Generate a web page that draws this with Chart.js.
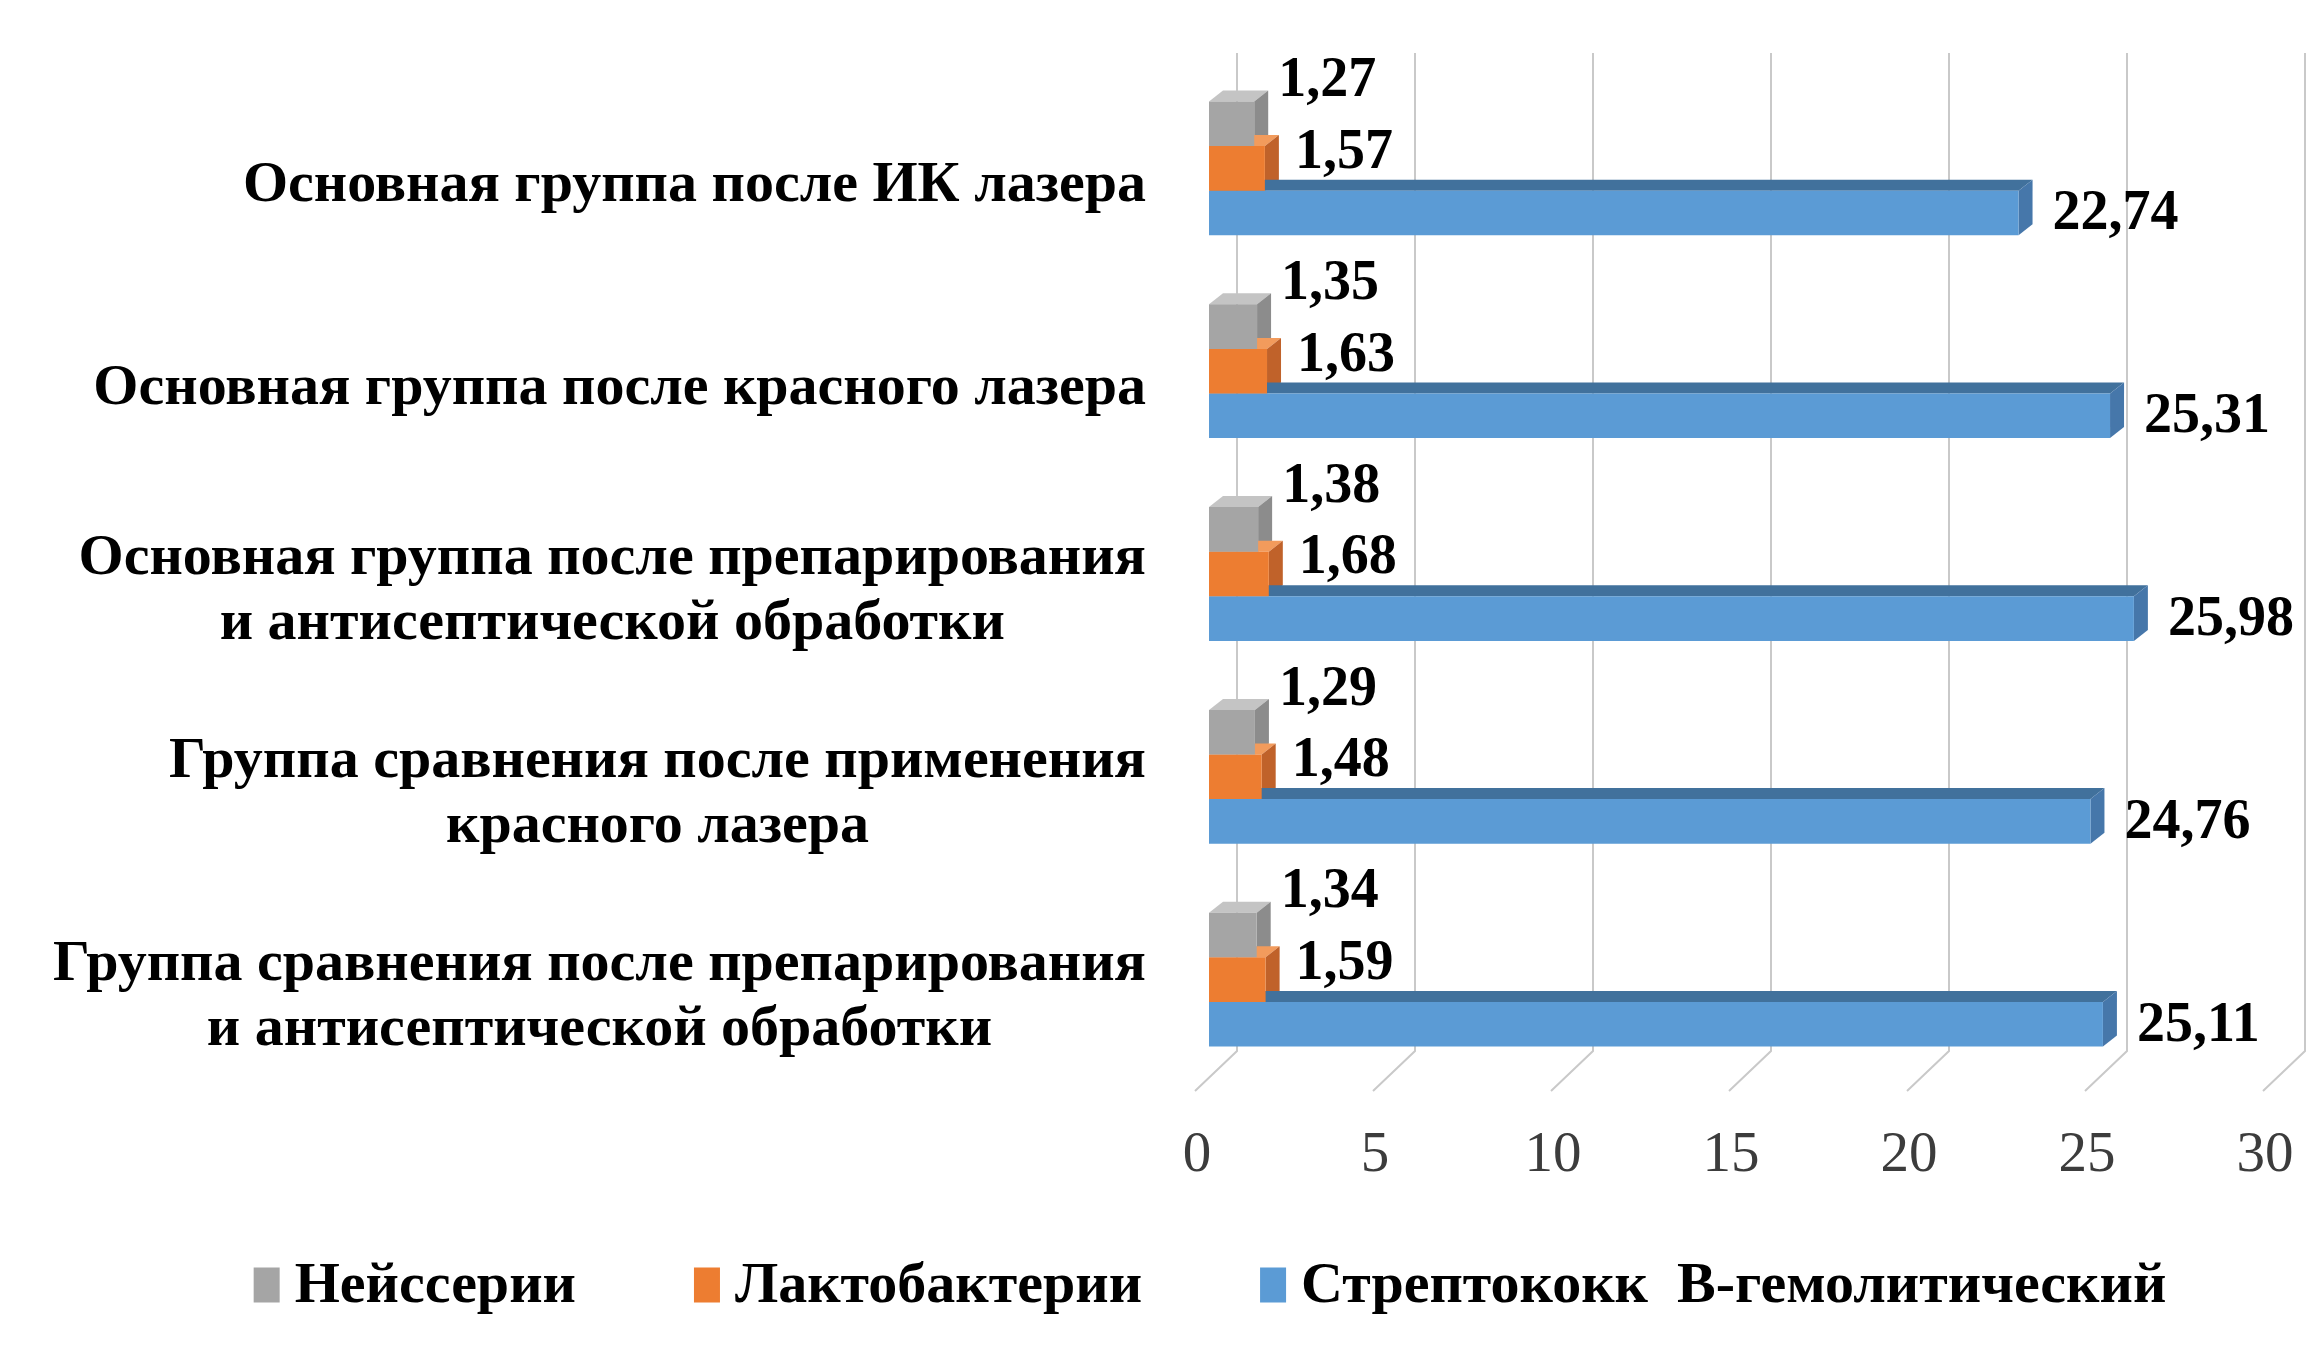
<!DOCTYPE html>
<html>
<head>
<meta charset="utf-8">
<script src="https://cdn.jsdelivr.net/npm/chart.js@4.4.1/dist/chart.umd.min.js"></script>
<style>
  html, body { margin: 0; padding: 0; background: #fff; }
  canvas { display: block; }
</style>
</head>
<body>
<canvas id="chart" width="2312" height="1348"></canvas>
<script>
const groups = [
  ['Основная группа после ИК лазера'],
  ['Основная группа после красного лазера'],
  ['Основная группа после препарирования', 'и антисептической обработки'],
  ['Группа сравнения после применения', 'красного лазера'],
  ['Группа сравнения после препарирования', 'и антисептической обработки']
]
const neisseria = [1.27, 1.35, 1.38, 1.29, 1.34]
const lacto = [1.57, 1.63, 1.68, 1.48, 1.59]
const strepto = [22.74, 25.31, 25.98, 24.76, 25.11]
const seriesNames = ['Нейссерии', 'Лактобактерии', 'Стрептококк  В-гемолитический']
const xTicks = [0, 5, 10, 15, 20, 25, 30]

const serif = '"Liberation Serif", "Times New Roman", serif'

// 3d look: depth of the bars and of the back wall
const dx = 14, dy = 11
const labelOffsets = [{ x: 24, y: -42 }, { x: 30, y: -15 }, { x: 34, y: 2 }]

const wallAndDepth = {
  id: 'wallAndDepth',
  beforeDatasetsDraw(chart) {
    const { ctx, chartArea, scales: { x } } = chart
    ctx.save()
    ctx.strokeStyle = '#c9c9c9'
    ctx.lineWidth = 2
    x.ticks.forEach(t => {
      const px = x.getPixelForValue(t.value)
      ctx.beginPath()
      ctx.moveTo(px + 28, chartArea.top - 14)
      ctx.lineTo(px + 28, chartArea.bottom - 30)
      ctx.lineTo(px - 14, chartArea.bottom + 10)
      ctx.stroke()
    })
    chart.data.datasets.forEach((ds, i) => {
      chart.getDatasetMeta(i).data.forEach(bar => {
        const top = bar.y - bar.height / 2
        const bottom = bar.y + bar.height / 2
        ctx.fillStyle = ds.topColor
        ctx.beginPath()
        ctx.moveTo(bar.base, top)
        ctx.lineTo(bar.x, top)
        ctx.lineTo(bar.x + dx, top - dy)
        ctx.lineTo(bar.base + dx, top - dy)
        ctx.closePath()
        ctx.fill()
        ctx.fillStyle = ds.sideColor
        ctx.beginPath()
        ctx.moveTo(bar.x, top)
        ctx.lineTo(bar.x + dx, top - dy)
        ctx.lineTo(bar.x + dx, bottom - dy)
        ctx.lineTo(bar.x, bottom)
        ctx.closePath()
        ctx.fill()
      })
    })
    ctx.restore()
  }
}

const valueLabels = {
  id: 'valueLabels',
  afterDatasetsDraw(chart) {
    const { ctx } = chart
    ctx.save()
    ctx.font = 'bold 56px ' + serif
    ctx.fillStyle = '#000'
    ctx.textAlign = 'left'
    ctx.textBaseline = 'middle'
    chart.data.datasets.forEach((ds, i) => {
      const off = labelOffsets[i]
      chart.getDatasetMeta(i).data.forEach((bar, j) => {
        ctx.fillText(ds.data[j].toFixed(2).replace('.', ','), bar.x + off.x, bar.y + off.y)
      })
    })
    ctx.restore()
  }
}

// category names: block right aligned, lines centred inside the block
const groupLabels = {
  id: 'groupLabels',
  afterDraw(chart) {
    const { ctx, scales: { y } } = chart
    ctx.save()
    ctx.font = 'bold 58px ' + serif
    ctx.fillStyle = '#000'
    ctx.textAlign = 'center'
    ctx.textBaseline = 'middle'
    const right = y.right - 63
    const lh = 65
    groups.forEach((lines, i) => {
      const w = Math.max(...lines.map(l => ctx.measureText(l).width))
      const cx = right - w / 2
      const cy = y.getPixelForValue(i) + 18 - (lines.length - 1) * lh / 2
      lines.forEach((l, k) => ctx.fillText(l, cx, cy + k * lh))
    })
    ctx.restore()
  }
}

// one-row legend under the axis, wide gaps like the original
const legendRow = {
  id: 'legendRow',
  afterDraw(chart) {
    const { ctx } = chart
    ctx.save()
    ctx.font = 'bold 58px ' + serif
    ctx.textBaseline = 'middle'
    ctx.textAlign = 'left'
    const items = chart.data.datasets.map(ds => ({ text: ds.label, color: ds.backgroundColor, w: ctx.measureText(ds.label).width }))
    const box = 26, boxH = 35, gap = 15, between = 118
    const total = items.reduce((s, it) => s + box + gap + it.w, 0) + between * (items.length - 1)
    let x = 1210 - total / 2
    const y = 1285
    items.forEach(it => {
      ctx.fillStyle = it.color
      ctx.fillRect(x, y - boxH / 2, box, boxH)
      ctx.fillStyle = '#000'
      ctx.fillText(it.text, x + box + gap, y + 2)
      x += box + gap + it.w + between
    })
    ctx.restore()
  }
}

const data = {
  labels: groups,
  datasets: [
    { label: seriesNames[0], data: neisseria, backgroundColor: '#a5a5a5', topColor: '#c4c4c4', sideColor: '#8c8c8c' },
    { label: seriesNames[1], data: lacto, backgroundColor: '#ed7d31', topColor: '#f29b5c', sideColor: '#c0622a' },
    { label: seriesNames[2], data: strepto, backgroundColor: '#5b9bd5', topColor: '#41719c', sideColor: '#4677aa' }
  ]
}

const options = {
  responsive: false,
  animation: false,
  indexAxis: 'y',
  layout: { padding: { top: 67, right: 35, left: 150, bottom: 118 } },
  datasets: { bar: { categoryPercentage: 0.66, barPercentage: 1 } },
  scales: {
    x: {
      min: xTicks[0],
      max: xTicks[xTicks.length - 1],
      ticks: {
        stepSize: xTicks[1] - xTicks[0],
        color: '#3c3c3c',
        font: { family: serif, size: 57 },
        padding: 41,
        labelOffset: -12
      },
      grid: { display: false, drawTicks: false },
      border: { display: false },
      afterFit: s => { s.height = 149; s.paddingLeft = 0; s.paddingRight = 0 }
    },
    y: {
      ticks: { display: false },
      grid: { display: false, drawTicks: false },
      border: { display: false },
      afterFit: s => { s.width = 1059; s.paddingTop = 0; s.paddingBottom = 0 }
    }
  },
  plugins: {
    legend: { display: false },
    tooltip: { enabled: false }
  }
}

new Chart('chart', { type: 'bar', data, options, plugins: [wallAndDepth, valueLabels, groupLabels, legendRow] })
</script>
</body>
</html>
